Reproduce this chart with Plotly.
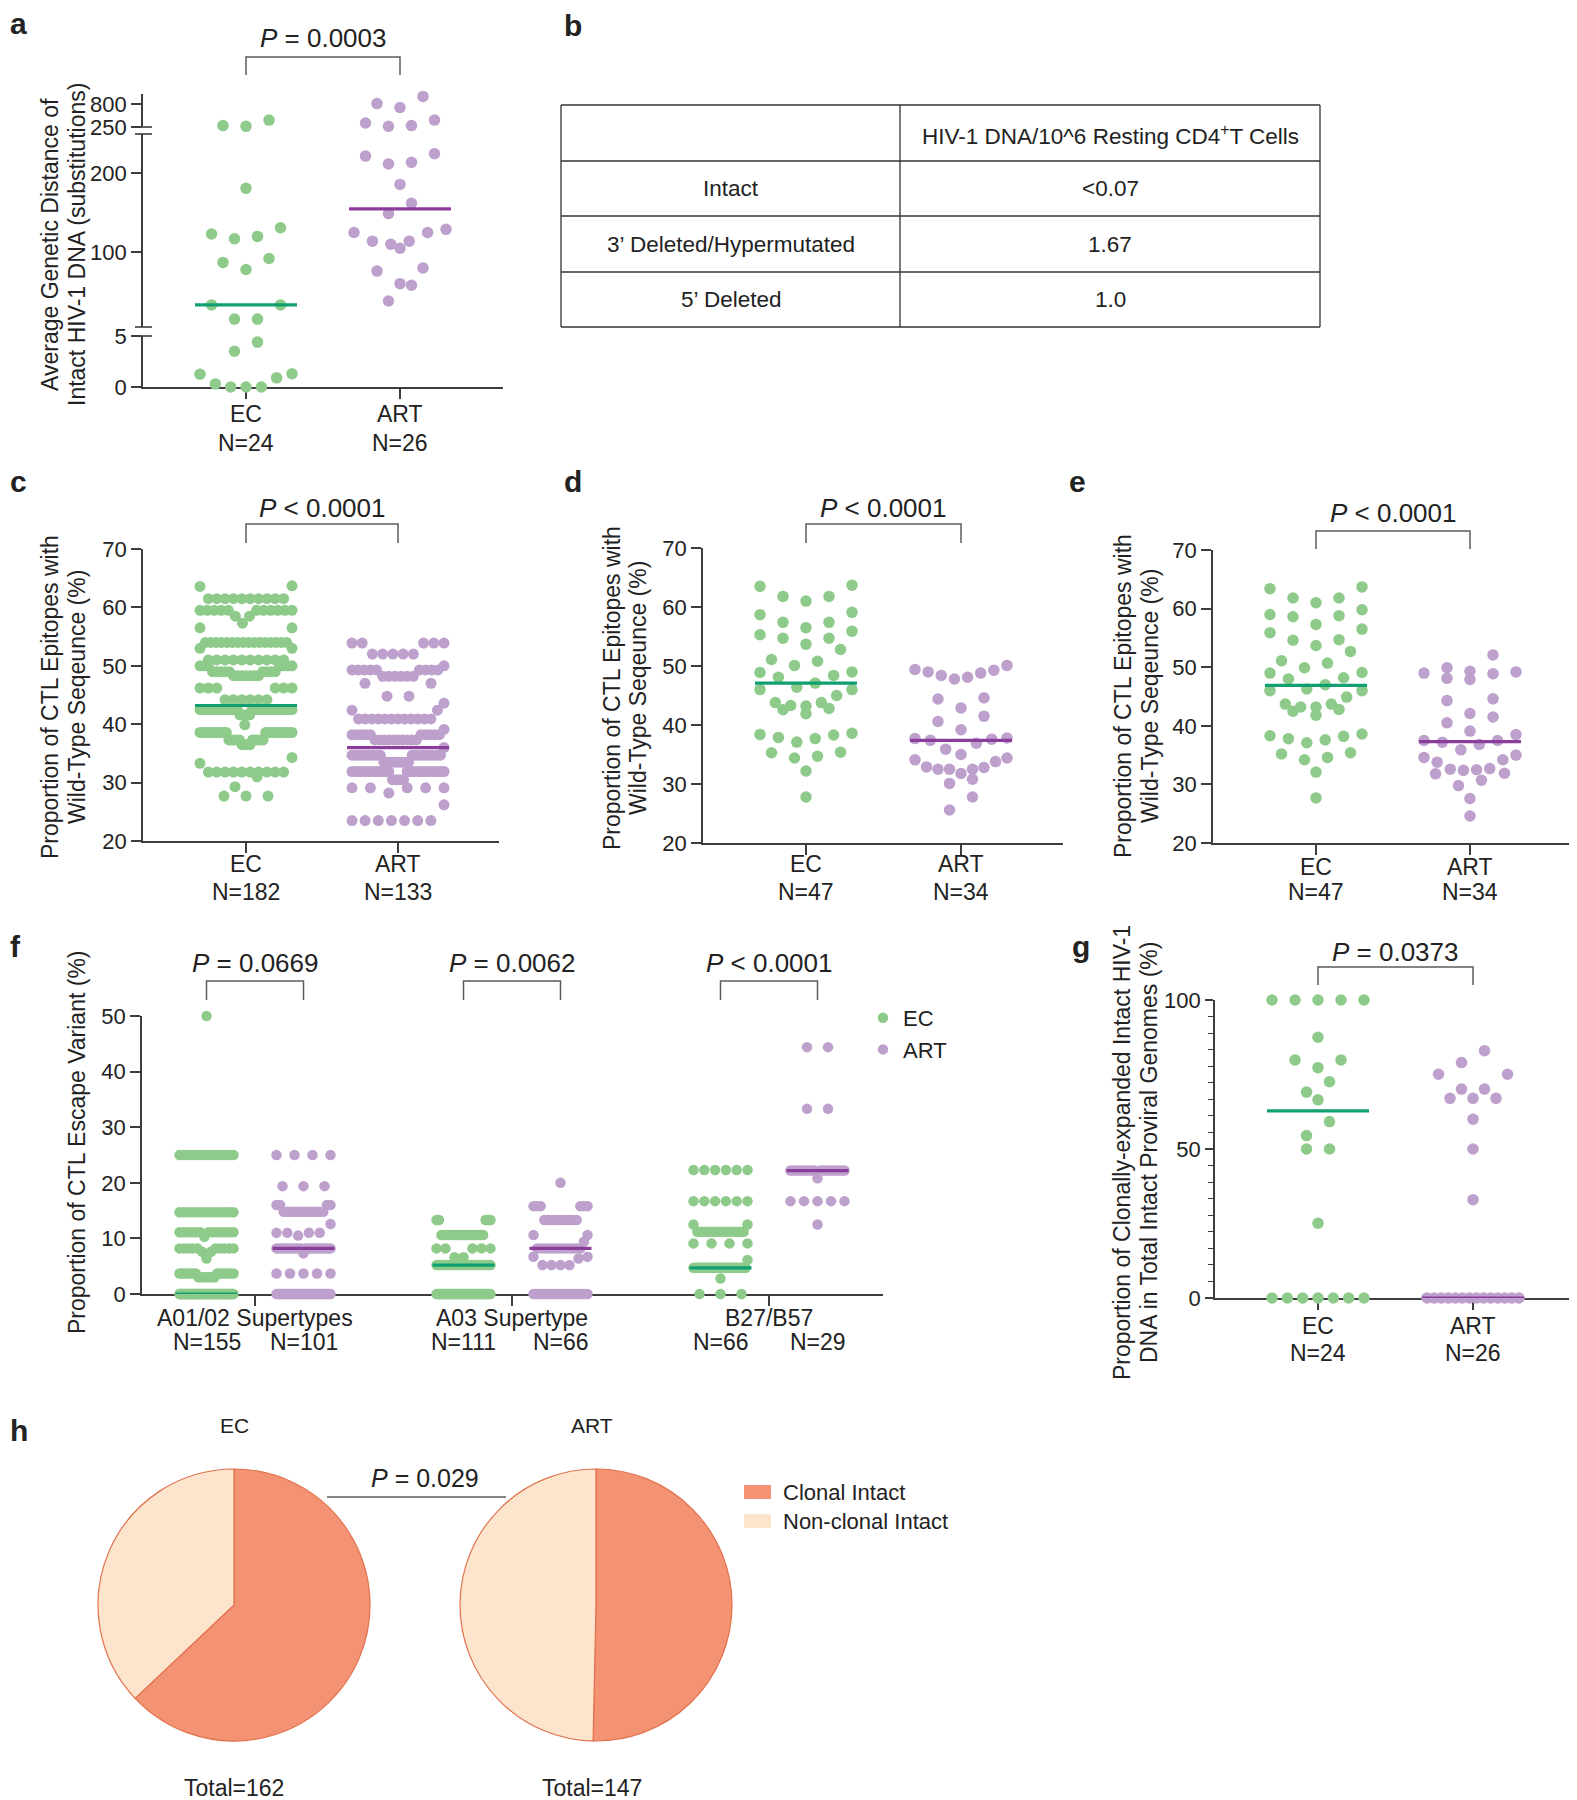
import numpy as np
import plotly.graph_objects as go

# ---------------- data ----------------
groups = ["EC", "ART"]

# a: average genetic distance of intact HIV-1 DNA (substitutions)
a_ec = [414, 283, 266, 181, 131, 123, 120, 117, 92, 87, 78, 33, 33, 15, 15,
        4.4, 3.5, 1.3, 1.25, 0.9, 0.3, 0, 0, 0]
a_art = [978, 807, 713, 414, 344, 283, 266, 225, 222, 214, 212, 186, 162,
         149, 129, 125, 125, 114, 114, 110, 105, 80, 76, 60, 58, 38]
a_median = [33, 155]
a_n = [24, 26]

# b: table
b_header = "HIV-1 DNA/10^6 Resting CD4<sup>+</sup>T Cells"
b_rows = ["Intact", "3’ Deleted/Hypermutated", "5’ Deleted"]
b_values = ["&lt;0.07", "1.67", "1.0"]

# c: dense dot rows -> value and number of dots on it
c_ec_values = [63.7, 63.6, 61.5, 59.5, 58.5, 57.3, 56.5, 54.0, 53.0, 51.0, 50.0, 49.0,
               48.3, 46.2, 44.2, 42.5, 41.6, 39.9, 38.6, 37.3, 36.5, 34.3, 33.3, 31.8,
               31.0, 29.3, 27.7]
c_ec_counts = [1, 1, 10, 11, 2, 1, 2, 16, 2, 10, 7, 9,
               7, 6, 6, 33, 4, 1, 22, 10, 4, 1, 1, 10,
               1, 1, 3]
c_art_values = [53.9, 52.0, 50.0, 49.3, 48.2, 47.0, 44.8, 43.6, 42.4, 40.9, 39.1, 38.2,
                37.3, 36.0, 34.7, 33.5, 31.9, 30.5, 29.1, 28.2, 26.2, 23.5]
c_art_counts = [5, 5, 1, 9, 6, 2, 2, 1, 2, 12, 1, 10,
                10, 1, 18, 8, 22, 4, 5, 1, 1, 7]
c_median = [43.2, 36.0]
c_n = [182, 133]

# d
d_ec = [63.5, 63.7, 61.0, 61.8, 61.8, 58.7, 59.1, 57.4, 57.4, 56.5, 55.9, 54.7,
        55.3, 54.7, 53.7, 52.8, 51.1, 50.1, 50.8, 48.9, 49.0, 48.1, 48.4, 47.1,
        46.4, 46.0, 46.0, 45.0, 43.8, 43.8, 43.3, 43.2, 42.8, 42.6, 41.9, 37.1,
        38.4, 37.9, 38.3, 38.6, 37.7, 35.3, 35.4, 34.4, 34.7, 32.2, 27.8]
d_art = [49.4, 49.0, 48.4, 47.8, 48.1, 48.8, 49.3, 50.1, 44.4, 44.6, 42.9, 41.5,
         40.6, 39.2, 37.8, 37.6, 36.9, 37.4, 37.7, 35.9, 35.0, 34.4, 33.8, 34.1,
         32.8, 32.5, 31.8, 32.5, 32.5, 32.9, 30.1, 30.8, 27.8, 25.6]
d_median = [47.1, 37.4]
d_n = [47, 34]

# e
e_ec = [63.4, 63.7, 61.0, 61.8, 61.8, 59.0, 58.6, 58.8, 59.8, 56.5, 55.9, 57.3,
        53.7, 54.7, 54.6, 52.7, 51.1, 49.9, 50.7, 49.0, 49.1, 48.0, 48.2, 47.0,
        46.3, 46.0, 46.0, 44.9, 43.7, 43.7, 43.2, 43.2, 42.8, 42.5, 41.8, 38.3,
        37.1, 37.8, 38.2, 38.6, 37.6, 35.2, 35.4, 34.2, 34.6, 32.1, 27.7]
e_art = [49.9, 49.2, 48.9, 47.9, 48.1, 49.0, 49.3, 52.1, 44.3, 44.6, 42.1, 41.5,
         40.5, 39.1, 38.5, 37.5, 36.8, 37.2, 37.5, 35.9, 35.0, 34.6, 33.8, 34.2,
         32.6, 32.4, 31.8, 31.9, 32.5, 32.7, 29.8, 30.7, 27.6, 24.6]
e_median = [46.9, 37.3]
e_n = [47, 34]

# f: escape variants per HLA group (value and number of dots on it)
f_groups = ["A01/02 Supertypes", "A03 Supertype", "B27/B57"]
f_ec_values = [[50, 25, 14.7, 11.1, 10.3, 8.2, 7.6, 6.4, 3.7, 3.0, 0],
               [13.3, 10.6, 8.2, 6.6, 5.2, 0],
               [22.3, 16.7, 12.5, 11.2, 9.1, 6.1, 4.7, 2.8, 0]]
f_ec_counts = [[1, 14, 14, 13, 1, 10, 2, 1, 14, 7, 78],
               [5, 18, 5, 2, 26, 55],
               [6, 6, 2, 13, 4, 1, 30, 1, 3]]
f_art_values = [[25, 19.4, 16.0, 14.8, 12.6, 11.0, 10.5, 8.2, 7.3, 3.7, 0],
                [20.0, 15.8, 13.3, 10.6, 9.4, 8.2, 6.7, 6.4, 5.2, 0],
                [44.4, 33.3, 22.2, 20.8, 16.7, 12.5]]
f_art_counts = [[4, 3, 4, 12, 1, 4, 1, 22, 1, 5, 44],
                [1, 6, 10, 2, 1, 13, 2, 1, 4, 26],
                [2, 2, 18, 1, 5, 1]]
f_median_ec = [0, 5.2, 4.7]
f_median_art = [8.2, 8.2, 22.2]
f_n_ec = [155, 111, 66]
f_n_art = [101, 66, 29]
f_p = ["= 0.0669", "= 0.0062", "&lt; 0.0001"]

# g
g_ec = [100, 100, 100, 100, 100, 87.5, 79.9, 79.9, 77.3, 72.6, 69.1, 66.5,
        59.2, 54.5, 50, 50, 25.1, 0, 0, 0, 0, 0, 0, 0]
g_art = [83, 79, 75.1, 75.1, 70.1, 70.1, 67, 67, 67, 60, 50, 33,
         0, 0, 0, 0, 0, 0, 0, 0, 0, 0, 0, 0, 0, 0]
g_median = [62.8, 0]
g_n = [24, 26]

# h
h_labels = ["Clonal Intact", "Non-clonal Intact"]
h_clonal = [102, 74]
h_nonclonal = [60, 73]
h_total = [162, 147]

# ---------------- styling ----------------
W, H = 1577, 1800
OX, OY = 8, 8          # page margin of the html body
FONT = "Liberation Sans, Arial, Helvetica, sans-serif"
INK = "#222222"
AXIS = "#3d3d3d"
GREY = "#5c5c5c"
DOT = ["#8ecb8b", "#bea0cd"]
MED = ["#109f70", "#8b3d9c"]
PIE_FILL = ["#f39373", "#fde5cd"]
PIE_EDGE = "#e2714d"

AXIS_STYLE = dict(showline=True, linecolor=AXIS, linewidth=1.6, ticks="outside",
                  ticklen=10, tickwidth=1.6, tickcolor=AXIS, showgrid=False,
                  zeroline=False, layer="below traces", fixedrange=True)


def fx(x):
    return (x - OX) / W


def fy(y):
    return 1 - (y - OY) / H


def key(kind, i):
    return f"{kind}axis" if i == 1 else f"{kind}axis{i}"


def ref(kind, i):
    return kind if i == 1 else f"{kind}{i}"


def swarm(up, d, half, h):
    """Row-style scatter (Prism like): x offsets in px for dots at heights up (px)."""
    up = np.asarray(up, dtype=float)
    xs = np.zeros(len(up))
    rows, cur, start = [], [], 0.0
    for i in np.argsort(-up, kind="stable"):
        if cur and start - up[i] >= h:
            rows.append(cur)
            cur = []
        if not cur:
            start = up[i]
        cur.append(i)
    if cur:
        rows.append(cur)
    for row in rows:
        k = len(row)
        s = min(2 * d, 2 * half / (k - 1)) if k > 1 else 0.0
        slots = (np.arange(k) - (k - 1) / 2) * s
        slots = slots[np.argsort(np.abs(slots), kind="stable")]
        members = sorted(row, key=lambda j: up[j])
        xs[members] = slots
    return xs


fig = go.Figure()
layout_axes, shapes, notes = {}, [], []


def note(x, y, s, size=22, anchor="center", angle=0, xref="paper"):
    notes.append(dict(x=fx(x) if xref == "paper" else x, y=fy(y), xref=xref, yref="paper",
                      text=s, showarrow=False, textangle=angle, xanchor=anchor,
                      yanchor="middle", font=dict(family=FONT, size=size, color=INK)))


def set_x(i, x0, x1, cats, anchor, tickvals):
    unit = cats[1] - cats[0]
    layout_axes[key("x", i)] = dict(
        AXIS_STYLE, domain=[fx(x0), fx(x1)],
        range=[(x0 - cats[0]) / unit, (x1 - cats[0]) / unit],
        anchor=ref("y", anchor), tickvals=tickvals, showticklabels=False)
    return unit


def set_y(i, top, bottom, rng, tickvals, anchor, **extra):
    layout_axes[key("y", i)] = dict(
        AXIS_STYLE, domain=[fy(bottom), fy(top)], range=list(rng),
        anchor=ref("x", anchor), tickvals=tickvals,
        tickfont=dict(family=FONT, size=22, color=INK), **extra)


def add_dots(xi, yi, x, y, color, size=11.5, name=None, legend=False):
    fig.add_trace(go.Scatter(
        x=x, y=y, mode="markers", name=name, showlegend=legend,
        marker=dict(size=size, color=color, line=dict(width=0)),
        xaxis=ref("x", xi), yaxis=ref("y", yi), cliponaxis=False, hoverinfo="y"))


def add_median(xi, yi, center, m, unit, color, half_px=50):
    fig.add_trace(go.Scatter(
        x=[center - half_px / unit, center + half_px / unit], y=[m, m], mode="lines",
        line=dict(color=color, width=3.2), xaxis=ref("x", xi), yaxis=ref("y", yi),
        cliponaxis=False, showlegend=False, hoverinfo="skip"))


def add_bracket(xi, xa, xb, y_bar, y_leg, y_text, label):
    r = ref("x", xi)
    shapes.append(dict(type="path", xref=r, yref="paper",
                       path=f"M{xa},{fy(y_leg)} L{xa},{fy(y_bar)} L{xb},{fy(y_bar)} L{xb},{fy(y_leg)}",
                       line=dict(color=GREY, width=1.5)))
    note((xa + xb) / 2, y_text, "<i>P</i> " + label, size=26, xref=r)


def ytitle(lines, xs, y):
    for s, x in zip(lines, xs):
        note(x, y, s, size=23, angle=-90)


def xlabels(xi, ns, y1, y2):
    for k, (g, n) in enumerate(zip(groups, ns)):
        note(k, y1, g, size=23, xref=ref("x", xi))
        note(k, y2, f"N={n}", size=23, xref=ref("x", xi))


# ---------------- a: broken y axis ----------------
A_SEG = [(0, 5, 387, 336), (5, 250, 327, 134), (250, 1035, 127, 94)]
A_TICKS = [[0, 5], [100, 200], [250, 800]]
unit_a = set_x(1, 143, 503, (246, 400), 1, [0, 1])
for s, (lo, hi, pb, pt) in enumerate(A_SEG):
    set_y(s + 1, pt, pb, (lo, hi), A_TICKS[s], 1)


def a_up(v):
    for lo, hi, pb, pt in A_SEG:
        if v <= hi:
            return (387 - pb) + (v - lo) * (pb - pt) / (hi - lo)
    return 387 - 94


for k, vals in enumerate([a_ec, a_art]):
    vals = np.asarray(vals, dtype=float)
    off = swarm([a_up(v) for v in vals], 11.5, 46, 16.7) / unit_a
    seg = np.searchsorted([5, 250], vals, side="left")
    for s in range(3):
        m = seg == s
        if m.any():
            add_dots(1, s + 1, k + off[m], vals[m], DOT[k])
for k, med in enumerate(a_median):
    s = int(np.searchsorted([5, 250], med, side="left"))
    add_median(1, s + 1, k, med, unit_a, MED[k], 51)
for yb in (127, 134, 327, 336):
    shapes.append(dict(type="line", xref="paper", yref="paper", x0=fx(135), x1=fx(152),
                       y0=fy(yb), y1=fy(yb), line=dict(color=AXIS, width=1.6)))
add_bracket(1, 0, 1, 57, 75, 38, "= 0.0003")
xlabels(1, a_n, 414, 443)
ytitle(["Average Genetic Distance of", "Intact HIV-1 DNA (substitutions)"], [50, 77], 245)

# ---------------- c, d, e, g: two-group dot plots ----------------
ctl_title = ["Proportion of CTL Epitopes with", "Wild-Type Seqeunce (%)"]
panels = [
    dict(xi=2, yi=4, data=[np.repeat(c_ec_values, c_ec_counts), np.repeat(c_art_values, c_art_counts)],
         med=c_median, n=c_n, p="&lt; 0.0001", x=(143, 499), y=(549, 841), cats=(246, 398),
         yr=(20, 70), yt=[20, 30, 40, 50, 60, 70], br=(524, 543, 508), lab=(864, 892),
         size=11, title=(ctl_title, (50, 77), 697)),
    dict(xi=3, yi=5, data=[d_ec, d_art], med=d_median, n=d_n, p="&lt; 0.0001",
         x=(703, 1063), y=(548, 843), cats=(806, 961), yr=(20, 70),
         yt=[20, 30, 40, 50, 60, 70], br=(524, 543, 508), lab=(864, 892),
         title=(ctl_title, (612, 638), 688)),
    dict(xi=4, yi=6, data=[e_ec, e_art], med=e_median, n=e_n, p="&lt; 0.0001",
         x=(1213, 1573), y=(550, 843), cats=(1316, 1470), yr=(20, 70),
         yt=[20, 30, 40, 50, 60, 70], br=(531, 549, 513), lab=(867, 892),
         title=(ctl_title, (1123, 1150), 696)),
    dict(xi=6, yi=8, data=[g_ec, g_art], med=g_median, n=g_n, p="= 0.0373",
         x=(1215, 1577), y=(1000, 1298), cats=(1318, 1473), yr=(0, 100), yt=[0, 50, 100],
         br=(967, 985, 952), lab=(1326, 1353),
         title=(["Proportion of Clonally-expanded Intact HIV-1",
                 "DNA in Total Intact Proviral Genomes (%)"], (1122, 1149), 1153),
         extra=dict(ticklen=8, minor=dict(dtick=50 / 9, tick0=0, ticks="outside", ticklen=5,
                                          tickwidth=1.4, tickcolor=AXIS, showgrid=False))),
]
for P in panels:
    unit = set_x(P["xi"], P["x"][0], P["x"][1], P["cats"], P["yi"], [0, 1])
    set_y(P["yi"], P["y"][0], P["y"][1], P["yr"], P["yt"], P["xi"], **P.get("extra", {}))
    scale = (P["y"][1] - P["y"][0]) / (P["yr"][1] - P["yr"][0])
    size = P.get("size", 11.5)
    for k, vals in enumerate(P["data"]):
        vals = np.asarray(vals, dtype=float)
        off = swarm(vals * scale, size, 46, 1.45 * size) / unit
        add_dots(P["xi"], P["yi"], k + off, vals, DOT[k], size=size)
    for k, med in enumerate(P["med"]):
        add_median(P["xi"], P["yi"], k, med, unit, MED[k], 51)
    add_bracket(P["xi"], 0, 1, *P["br"], P["p"])
    xlabels(P["xi"], P["n"], *P["lab"])
    ytitle(*P["title"])

# ---------------- f: three HLA groups ----------------
unit_f = set_x(5, 142, 883, (255, 512), 7, [0, 1, 2])
set_y(7, 1016, 1294, (0, 50), [0, 10, 20, 30, 40, 50], 5)
sep = 48.5 / unit_f
scale_f = (1294 - 1016) / 50
for gi in range(3):
    sets = [(f_ec_values, f_ec_counts, f_median_ec, f_n_ec),
            (f_art_values, f_art_counts, f_median_art, f_n_art)]
    for k, (vals_l, cnt_l, med_l, n_l) in enumerate(sets):
        vals = np.repeat(vals_l[gi], cnt_l[gi]).astype(float)
        center = gi + (sep if k else -sep)
        off = swarm(vals * scale_f, 10.5, 27, 15.2) / unit_f
        add_dots(5, 7, center + off, vals, DOT[k], size=10.5, name=groups[k], legend=(gi == 0))
        add_median(5, 7, center, med_l[gi], unit_f, MED[k], 31)
        note(center, 1342, f"N={n_l[gi]}", size=23, xref="x5")
    note(gi, 1318, f_groups[gi], size=23, xref="x5")
    add_bracket(5, gi - sep, gi + sep, 981, 1000, 963, f_p[gi])
ytitle(["Proportion of CTL Escape Variant (%)"], [77], 1142)

# ---------------- b: table ----------------
TB_X = [561, 900, 1320]
TB_Y = [105, 161, 216, 272, 327]
for yb in TB_Y:
    shapes.append(dict(type="line", xref="paper", yref="paper", x0=fx(TB_X[0]), x1=fx(TB_X[-1]),
                       y0=fy(yb), y1=fy(yb), line=dict(color="#333333", width=1.3)))
for xb in TB_X:
    shapes.append(dict(type="line", xref="paper", yref="paper", x0=fx(xb), x1=fx(xb),
                       y0=fy(TB_Y[0]), y1=fy(TB_Y[-1]), line=dict(color="#333333", width=1.3)))
col_c = [(TB_X[0] + TB_X[1]) / 2, (TB_X[1] + TB_X[2]) / 2]
note(col_c[1], (TB_Y[0] + TB_Y[1]) / 2 + 2, b_header, size=22.5)
for r, (lab, val) in enumerate(zip(b_rows, b_values)):
    yc = (TB_Y[r + 1] + TB_Y[r + 2]) / 2
    note(col_c[0], yc, lab, size=22.5)
    note(col_c[1], yc, val, size=22.5)

# ---------------- h: pies ----------------
PIE_C = [(234, 1605), (596, 1605)]
PIE_TXT_X = [234, 592]
R = 136
for i, (cx, cy) in enumerate(PIE_C):
    fig.add_trace(go.Pie(
        values=[h_clonal[i], h_nonclonal[i]], labels=h_labels, sort=False,
        direction="clockwise", rotation=0, textinfo="none", showlegend=False,
        marker=dict(colors=PIE_FILL, line=dict(color=PIE_EDGE, width=1.2)),
        domain=dict(x=[fx(cx - R), fx(cx + R)], y=[fy(cy + R), fy(cy - R)]),
        hoverinfo="label+value"))
    note(PIE_TXT_X[i], 1425, groups[i], size=21)
    note(PIE_TXT_X[i], 1788, f"Total={h_total[i]}", size=23)
shapes.append(dict(type="line", xref="paper", yref="paper", x0=fx(327), x1=fx(506),
                   y0=fy(1497), y1=fy(1497), line=dict(color=GREY, width=1.5)))
note(425, 1478, "<i>P</i> = 0.029", size=25)
for j, (lab, yc) in enumerate(zip(h_labels, (1492, 1521))):
    shapes.append(dict(type="rect", xref="paper", yref="paper", x0=fx(744), x1=fx(771),
                       y0=fy(yc + 7), y1=fy(yc - 7), fillcolor=PIE_FILL[j], line=dict(width=0)))
    note(781, yc, lab, size=22, anchor="left")

# ---------------- panel letters ----------------
for s, x, y in [("a", 8, 24), ("b", 562, 25), ("c", 8, 482), ("d", 562, 482),
                ("e", 1067, 482), ("f", 8, 946), ("g", 1070, 946), ("h", 8, 1430)]:
    note(x, y, f"<b>{s}</b>", size=30, anchor="left")

fig.update_layout(
    template="none",
    width=W, height=H, margin=dict(l=0, r=0, t=0, b=0, autoexpand=False),
    paper_bgcolor="white", plot_bgcolor="rgba(0,0,0,0)",
    font=dict(family=FONT, color=INK),
    showlegend=True,
    legend=dict(x=fx(863), y=fy(997), xanchor="left", yanchor="top",
                font=dict(family=FONT, size=22, color=INK), bgcolor="rgba(0,0,0,0)",
                tracegroupgap=0),
    shapes=shapes, annotations=notes, **layout_axes)

fig.write_html("out.html")
